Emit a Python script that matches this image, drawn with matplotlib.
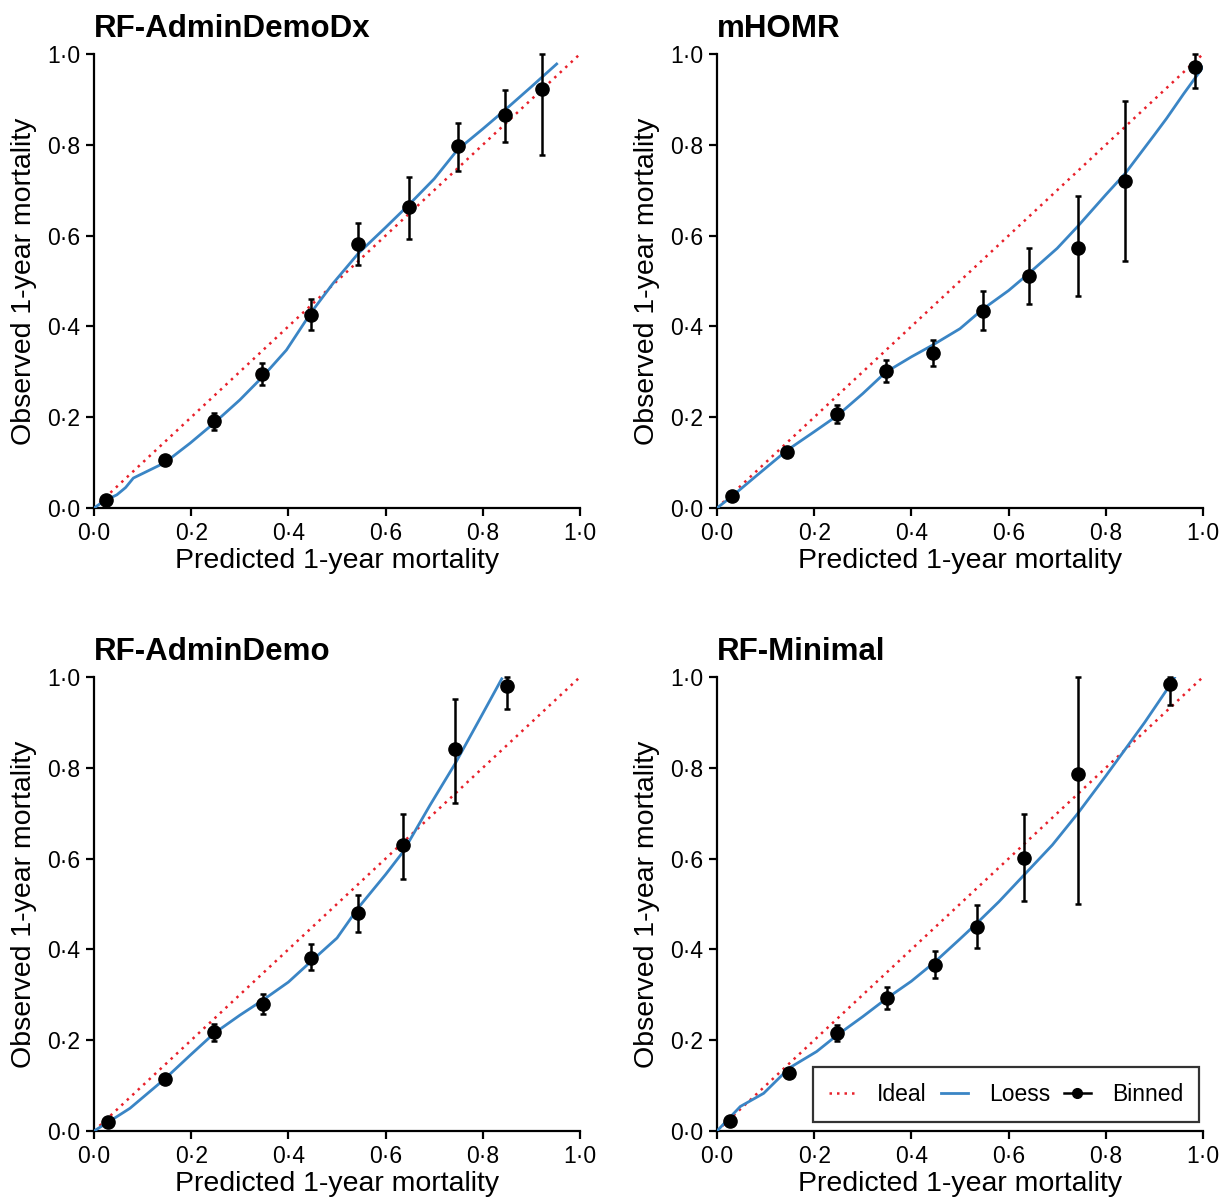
import matplotlib
matplotlib.use("Agg")
import matplotlib.pyplot as plt
from matplotlib.lines import Line2D
from matplotlib.ticker import FuncFormatter

plt.rcParams['font.family'] = ['Liberation Sans', 'DejaVu Sans']

# --- datos ---
titulos = ["RF-AdminDemoDx", "mHOMR", "RF-AdminDemo", "RF-Minimal"]

# RF-AdminDemoDx
dx_bin_x = [0.025, 0.146, 0.247, 0.346, 0.447, 0.544, 0.648, 0.748, 0.846, 0.922]
dx_bin_y = [0.018, 0.105, 0.191, 0.296, 0.426, 0.582, 0.662, 0.798, 0.866, 0.922]
dx_bin_lo = [0.012, 0.095, 0.172, 0.272, 0.392, 0.535, 0.593, 0.742, 0.806, 0.778]
dx_bin_hi = [0.024, 0.114, 0.209, 0.319, 0.461, 0.627, 0.730, 0.847, 0.921, 1.000]
dx_loess_x = [0.0, 0.02, 0.047, 0.065, 0.081, 0.146, 0.198, 0.247, 0.30, 0.346, 0.396,
              0.447, 0.492, 0.544, 0.60, 0.648, 0.70, 0.748, 0.80, 0.846, 0.90, 0.952]
dx_loess_y = [0.0, 0.015, 0.029, 0.045, 0.066, 0.100, 0.143, 0.187, 0.238, 0.288, 0.348,
              0.431, 0.495, 0.561, 0.618, 0.668, 0.725, 0.789, 0.835, 0.877, 0.928, 0.978]

# mHOMR
mh_bin_x = [0.031, 0.144, 0.247, 0.347, 0.444, 0.547, 0.642, 0.742, 0.840, 0.984]
mh_bin_y = [0.026, 0.123, 0.207, 0.302, 0.341, 0.435, 0.511, 0.572, 0.721, 0.971]
mh_bin_lo = [0.020, 0.115, 0.187, 0.277, 0.312, 0.391, 0.450, 0.467, 0.543, 0.926]
mh_bin_hi = [0.030, 0.132, 0.226, 0.325, 0.370, 0.478, 0.572, 0.687, 0.896, 1.000]
mh_loess_x = [0.0, 0.03, 0.08, 0.144, 0.20, 0.247, 0.30, 0.347, 0.40, 0.444, 0.50,
              0.547, 0.60, 0.642, 0.70, 0.742, 0.80, 0.840, 0.90, 0.925, 0.96, 1.0]
mh_loess_y = [0.0, 0.025, 0.070, 0.127, 0.168, 0.203, 0.252, 0.299, 0.333, 0.359, 0.395,
              0.438, 0.479, 0.517, 0.572, 0.620, 0.690, 0.737, 0.822, 0.858, 0.912, 0.971]

# RF-AdminDemo
ad_bin_x = [0.029, 0.147, 0.247, 0.347, 0.447, 0.544, 0.636, 0.743, 0.849]
ad_bin_y = [0.019, 0.114, 0.218, 0.280, 0.382, 0.480, 0.629, 0.842, 0.980]
ad_bin_lo = [0.014, 0.105, 0.199, 0.258, 0.354, 0.439, 0.556, 0.723, 0.929]
ad_bin_hi = [0.024, 0.124, 0.236, 0.302, 0.411, 0.519, 0.699, 0.951, 1.000]
ad_loess_x = [0.0, 0.03, 0.074, 0.147, 0.198, 0.247, 0.30, 0.347, 0.40, 0.447, 0.50,
              0.544, 0.60, 0.636, 0.691, 0.743, 0.794, 0.839]
ad_loess_y = [0.0, 0.020, 0.050, 0.116, 0.167, 0.215, 0.255, 0.288, 0.328, 0.374, 0.425,
              0.492, 0.565, 0.615, 0.717, 0.809, 0.908, 0.996]

# RF-Minimal
mn_bin_x = [0.027, 0.149, 0.247, 0.349, 0.449, 0.534, 0.631, 0.742, 0.932]
mn_bin_y = [0.023, 0.128, 0.215, 0.292, 0.365, 0.449, 0.602, 0.786, 0.984]
mn_bin_lo = [0.018, 0.118, 0.198, 0.269, 0.338, 0.404, 0.507, 0.500, 0.939]
mn_bin_hi = [0.028, 0.138, 0.233, 0.318, 0.396, 0.497, 0.699, 1.000, 1.000]
mn_loess_x = [0.0, 0.048, 0.096, 0.149, 0.205, 0.247, 0.30, 0.349, 0.40, 0.449, 0.50,
              0.534, 0.58, 0.631, 0.69, 0.742, 0.80, 0.836, 0.88, 0.932, 0.942]
mn_loess_y = [0.0, 0.054, 0.083, 0.139, 0.175, 0.211, 0.252, 0.292, 0.330, 0.373, 0.423,
              0.457, 0.505, 0.563, 0.630, 0.699, 0.782, 0.835, 0.900, 0.982, 1.0]

paneles = [
    (dx_bin_x, dx_bin_y, dx_bin_lo, dx_bin_hi, dx_loess_x, dx_loess_y),
    (mh_bin_x, mh_bin_y, mh_bin_lo, mh_bin_hi, mh_loess_x, mh_loess_y),
    (ad_bin_x, ad_bin_y, ad_bin_lo, ad_bin_hi, ad_loess_x, ad_loess_y),
    (mn_bin_x, mn_bin_y, mn_bin_lo, mn_bin_hi, mn_loess_x, mn_loess_y),
]

ticks = [0.0, 0.2, 0.4, 0.6, 0.8, 1.0]
rojo = '#e8202a'
azul = '#3a85c5'

fig = plt.figure(figsize=(12.3, 12.03), dpi=100)
W, H = 1230, 1203
# posiciones de los ejes en pixeles (izq, arriba)
posiciones = [(94, 54), (717, 54), (94, 677), (717, 677)]
ancho, alto = 486, 454

formato = FuncFormatter(lambda v, p: f"{v:.1f}".replace('.', '\u00b7'))

for i, (bx, by, blo, bhi, lx, ly) in enumerate(paneles):
    izq, arr = posiciones[i]
    ax = fig.add_axes([izq / W, 1 - (arr + alto) / H, ancho / W, alto / H])

    ax.plot([0, 1], [0, 1], color=rojo, lw=1.8, linestyle=(0, (1, 2)), zorder=2)
    ax.plot(lx, ly, color=azul, lw=2.0, zorder=3)
    err = [[y - lo for y, lo in zip(by, blo)], [hi - y for y, hi in zip(by, bhi)]]
    ax.errorbar(bx, by, yerr=err, fmt='o', color='black', ms=9.5,
                elinewidth=1.8, capsize=2.5, capthick=1.8, zorder=4, clip_on=False)

    ax.set_xlim(0, 1)
    ax.set_ylim(0, 1)
    ax.set_xticks(ticks)
    ax.set_yticks(ticks)
    ax.xaxis.set_major_formatter(formato)
    ax.yaxis.set_major_formatter(formato)
    ax.spines['top'].set_visible(False)
    ax.spines['right'].set_visible(False)
    for s in ['left', 'bottom']:
        ax.spines[s].set_linewidth(1.6)
    ax.tick_params(direction='out', length=6, width=1.6, labelsize=16.5, pad=4)

    ax.set_xlabel("Predicted 1-year mortality", fontsize=20.5)
    ax.set_ylabel("Observed 1-year mortality", fontsize=20.5)
    ax.xaxis.set_label_coords(0.5, -0.088)
    ax.yaxis.set_label_coords(-0.118, 0.5)
    ax.set_title(titulos[i], loc='left', fontsize=22.5, fontweight='bold', pad=12)

    if i == 3:
        manejadores = [
            Line2D([], [], color=rojo, lw=1.8, linestyle=(0, (1, 2))),
            Line2D([], [], color=azul, lw=2.0),
            Line2D([], [], color='black', lw=1.8, marker='o', ms=7),
        ]
        leg = ax.legend(manejadores, ["Ideal", "Loess", "Binned"], ncol=3,
                        loc='lower right', bbox_to_anchor=(0.992, 0.02),
                        fontsize=16.5, frameon=True, fancybox=False,
                        handlelength=1.2, handletextpad=0.9, columnspacing=0.6,
                        borderpad=0.7, borderaxespad=0)
        leg.get_frame().set_edgecolor('black')
        leg.get_frame().set_linewidth(1.6)

fig.savefig("out.png", dpi=100)
